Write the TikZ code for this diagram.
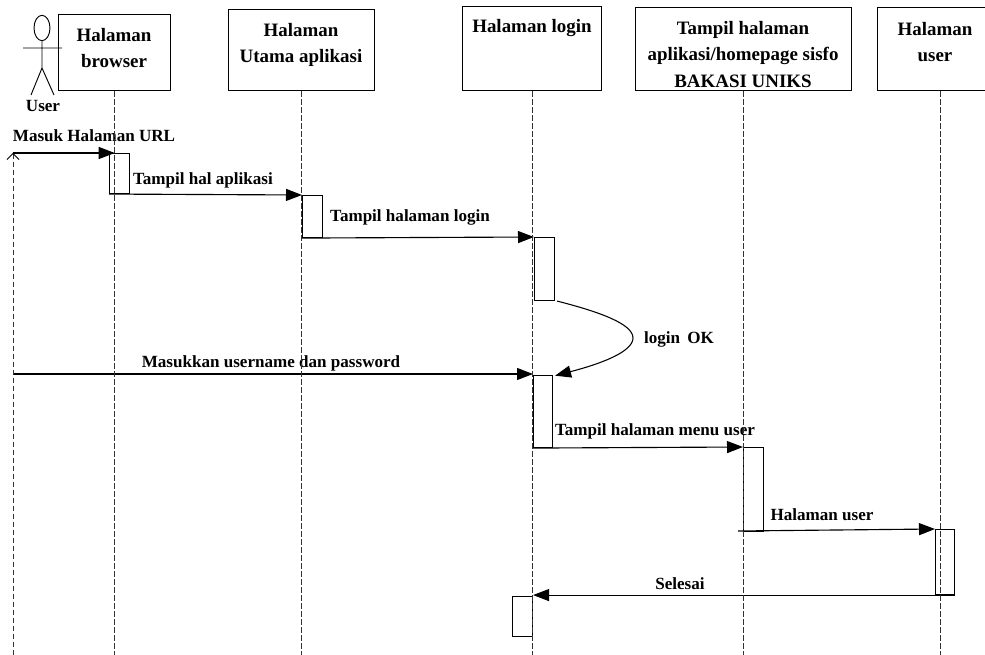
\documentclass[tikz,border=0pt]{standalone}
\usepackage{fontspec}
\setmainfont{Liberation Serif}
\usetikzlibrary{arrows.meta,shapes.geometric}
\tikzset{
  x=0.75pt,y=-0.75pt,
  headbox/.style 2 args={draw,line width=1.1pt,fill=white,inner sep=0pt,anchor=north west,
    minimum width=#1*0.75pt,minimum height=#2*0.75pt},
  headtext/.style={align=center,font=\fontsize{14.2}{20}\selectfont\bfseries,inner sep=0pt},
  lifeline/.style={line width=0.65pt,dash pattern=on 4pt off 2pt,black!80},
  actbox/.style 2 args={draw,line width=0.8pt,fill=white,inner sep=0pt,anchor=north west,
    minimum width=#1*0.75pt,minimum height=#2*0.75pt},
  msg/.style={line width=0.85pt,-{Triangle[length=12pt,width=9pt,black]}},
  msglabel/.style={font=\fontsize{12.8}{15}\selectfont\bfseries,inner sep=1pt,anchor=base},
  actorline/.style={line width=0.7pt}
}
\begin{document}
\begin{tikzpicture}
\useasboundingbox (0,0) rectangle (985,655);
\coordinate (bottom) at (0,655);
% head boxes
\node[headbox={112}{76}] (h1) at (58,14) {};
\node[headbox={146}{81}] (h2) at (228,9) {};
\node[headbox={139}{84}] (h3) at (462,6) {};
\node[headbox={216}{83}] (h4) at (635,7) {};
\node[headbox={126}{83}] (h5) at (877,7) {};
\node[headtext] (t1) at (114,48) {Halaman\\browser};
\node[headtext,font=\fontsize{14.2}{19}\selectfont\bfseries] (t2) at (301,45) {Halaman\\Utama aplikasi};
\node[headtext] (t3) at (532,28) {Halaman login};
\node[headtext] (t4) at (743,54.5) {Tampil halaman\\aplikasi/homepage sisfo\\BAKASI UNIKS};
\node[headtext] (t5) at (935,42) {Halaman\\user};
% activations
\node[actbox={20}{40}] (a1) at (109,153) {};
\node[actbox={20}{42}] (a2) at (302,195) {};
\node[actbox={20}{63}] (a3) at (534,237) {};
\node[actbox={19}{72}] (a4) at (533,375) {};
\node[actbox={20}{84}] (a5) at (743,447) {};
\node[actbox={19}{65}] (a6) at (935,529) {};
\node[actbox={20}{40}] (a7) at (512,596) {};
% free ends
\coordinate (u0) at (13,153);
\coordinate (u1) at (13,374);
\coordinate (s7) at (738,531);
% messages
\draw[msg] (u0) -- (a1.north west -| h1.south);
\draw[msg] (a1.south west) -- (a2.north west);
\draw[msg] (a2.south west) -- (a3.north west);
\draw[line width=0.8pt,-{Triangle[length=12pt,width=9pt,black]}] ([xshift=1.5pt]a3.south east)
  .. controls (600,312) and (633,324) .. (633,338)
  .. controls (633,352) and (600,364) .. ([xshift=1.5pt,yshift=-0.5pt]a4.north east);
\draw[msg] (u1) -- (a4.north west |- u1);
\draw[msg] (a4.south west) -- (a5.north west);
\draw[msg] (s7) -- (a6.north west);
\draw[msg] (a6.south east) -- (a7.north east |- a6.south east);
% labels
\node[msglabel] (m1) at (94,142) {Masuk Halaman URL};
\node[msglabel] (m2) at (203,185) {Tampil hal aplikasi};
\node[msglabel] (m3) at (410,222) {Tampil halaman login};
\node[msglabel] (m4) at (679,344) {login\, OK};
\node[msglabel,fill=white] (m5) at (271,368) {Masukkan username dan password};
\node[msglabel] (m6) at (655,436) {Tampil halaman menu user};
\node[msglabel] (m7) at (822,521) {Halaman user};
\node[msglabel,fill=white] (m8) at (680,589) {Selesai};
% lifelines
\draw[lifeline,{Straight Barb[length=4.5pt,width=9pt,black,line width=0.6pt]}-] (u0) -- (u0 |- bottom);
\foreach \h in {h1,h2,h3,h4,h5}{\draw[lifeline] (\h.south) -- (\h.south |- bottom);}
% actor
\node[draw,ellipse,line width=0.7pt,minimum width=12pt,minimum height=19pt,inner sep=0pt] (head) at (42,28) {};
\coordinate (hip) at (42,68);
\coordinate (armL) at (23,48);
\coordinate (armR) at (62,48);
\coordinate (legL) at (31,95);
\coordinate (legR) at (54,95);
\draw[actorline] (head.south) -- (hip) (armL) -- (armR) (legL) -- (hip) -- (legR);
\node[msglabel] (actor) at (43,112) {User};
\end{tikzpicture}
\end{document}
